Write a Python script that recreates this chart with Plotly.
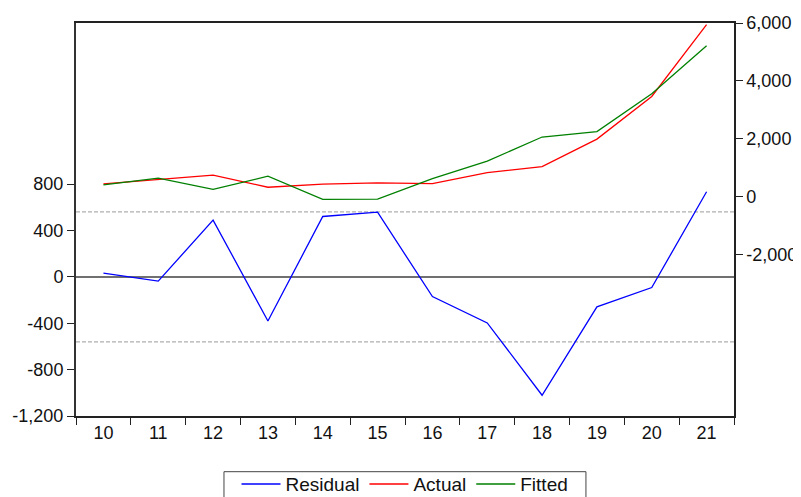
import plotly.graph_objects as go

periods = ["10", "11", "12", "13", "14", "15", "16", "17", "18", "19", "20", "21"]
residual = [32, -37, 490, -380, 521, 558, -170, -397, -1021, -259, -92, 734]
actual = [440, 602, 740, 325, 429, 474, 450, 831, 1039, 1987, 3462, 5944]
fitted = [408, 639, 250, 705, -92, -84, 620, 1228, 2060, 2246, 3554, 5210]
std_err = 561

left_ticks = [-1200, -800, -400, 0, 400, 800]
left_labels = ["-1,200", "-800", "-400", "0", "400", "800"]
right_ticks = [-2000, 0, 2000, 4000, 6000]
right_labels = ["-2,000", "0", "2,000", "4,000", "6,000"]

font = dict(family="Liberation Sans, Arial, sans-serif", size=18, color="#111111")
legend_font = dict(family="Liberation Sans, Arial, sans-serif", size=19, color="#111111")

fig = go.Figure()
fig.add_trace(go.Scatter(x=periods, y=residual, name="Residual", mode="lines",
                         line=dict(color="#0000ff", width=1.3), yaxis="y"))
fig.add_trace(go.Scatter(x=periods, y=actual, name="Actual", mode="lines",
                         line=dict(color="#ff0000", width=1.3), yaxis="y2"))
fig.add_trace(go.Scatter(x=periods, y=fitted, name="Fitted", mode="lines",
                         line=dict(color="#008000", width=1.3), yaxis="y2"))

shapes = [
    dict(type="line", xref="paper", x0=0, x1=1, yref="y", y0=0, y1=0,
         line=dict(color="#707070", width=2), layer="below"),
    dict(type="line", xref="paper", x0=0, x1=1, yref="y", y0=std_err, y1=std_err,
         line=dict(color="#b0b0b0", width=1.2, dash="4px,2px"), layer="below"),
    dict(type="line", xref="paper", x0=0, x1=1, yref="y", y0=-std_err, y1=-std_err,
         line=dict(color="#b0b0b0", width=1.2, dash="4px,2px"), layer="below"),
    # legend frame
    dict(type="rect", xref="paper", yref="paper", x0=0.2249, x1=0.775,
         y0=-0.1417, y1=-0.30, line=dict(color="#444", width=1), layer="above"),
]

fig.update_layout(
    width=801, height=497,
    margin=dict(l=68, r=75, t=15, b=89, autoexpand=False),
    paper_bgcolor="white", plot_bgcolor="white",
    font=font,
    showlegend=True,
    shapes=shapes,
    xaxis=dict(type="category", range=[-0.5, 11.5], tickson="boundaries",
               ticks="outside", ticklen=7, tickcolor="#222", showline=True,
               linecolor="#222", linewidth=1.5, mirror=True, showgrid=False,
               zeroline=False, tickfont=font, automargin=False),
    yaxis=dict(range=[-1200, 2190], tickvals=left_ticks, ticktext=left_labels,
               ticks="outside", ticklen=7, tickcolor="#222", showline=True,
               linecolor="#333", linewidth=2, showgrid=False, zeroline=False,
               tickfont=font, automargin=False),
    yaxis2=dict(range=[-7580, 6000], tickvals=right_ticks, ticktext=right_labels,
                overlaying="y", side="right", ticks="outside", ticklen=7,
                tickcolor="#222", showline=True, linecolor="#222", linewidth=1.5,
                showgrid=False, zeroline=False, tickfont=font, automargin=False),
    legend=dict(orientation="h", x=0.5, xanchor="center", y=-0.125, yanchor="top",
                borderwidth=0, font=legend_font, bgcolor="rgba(0,0,0,0)", itemwidth=39),
)

fig.write_html("out.html")
